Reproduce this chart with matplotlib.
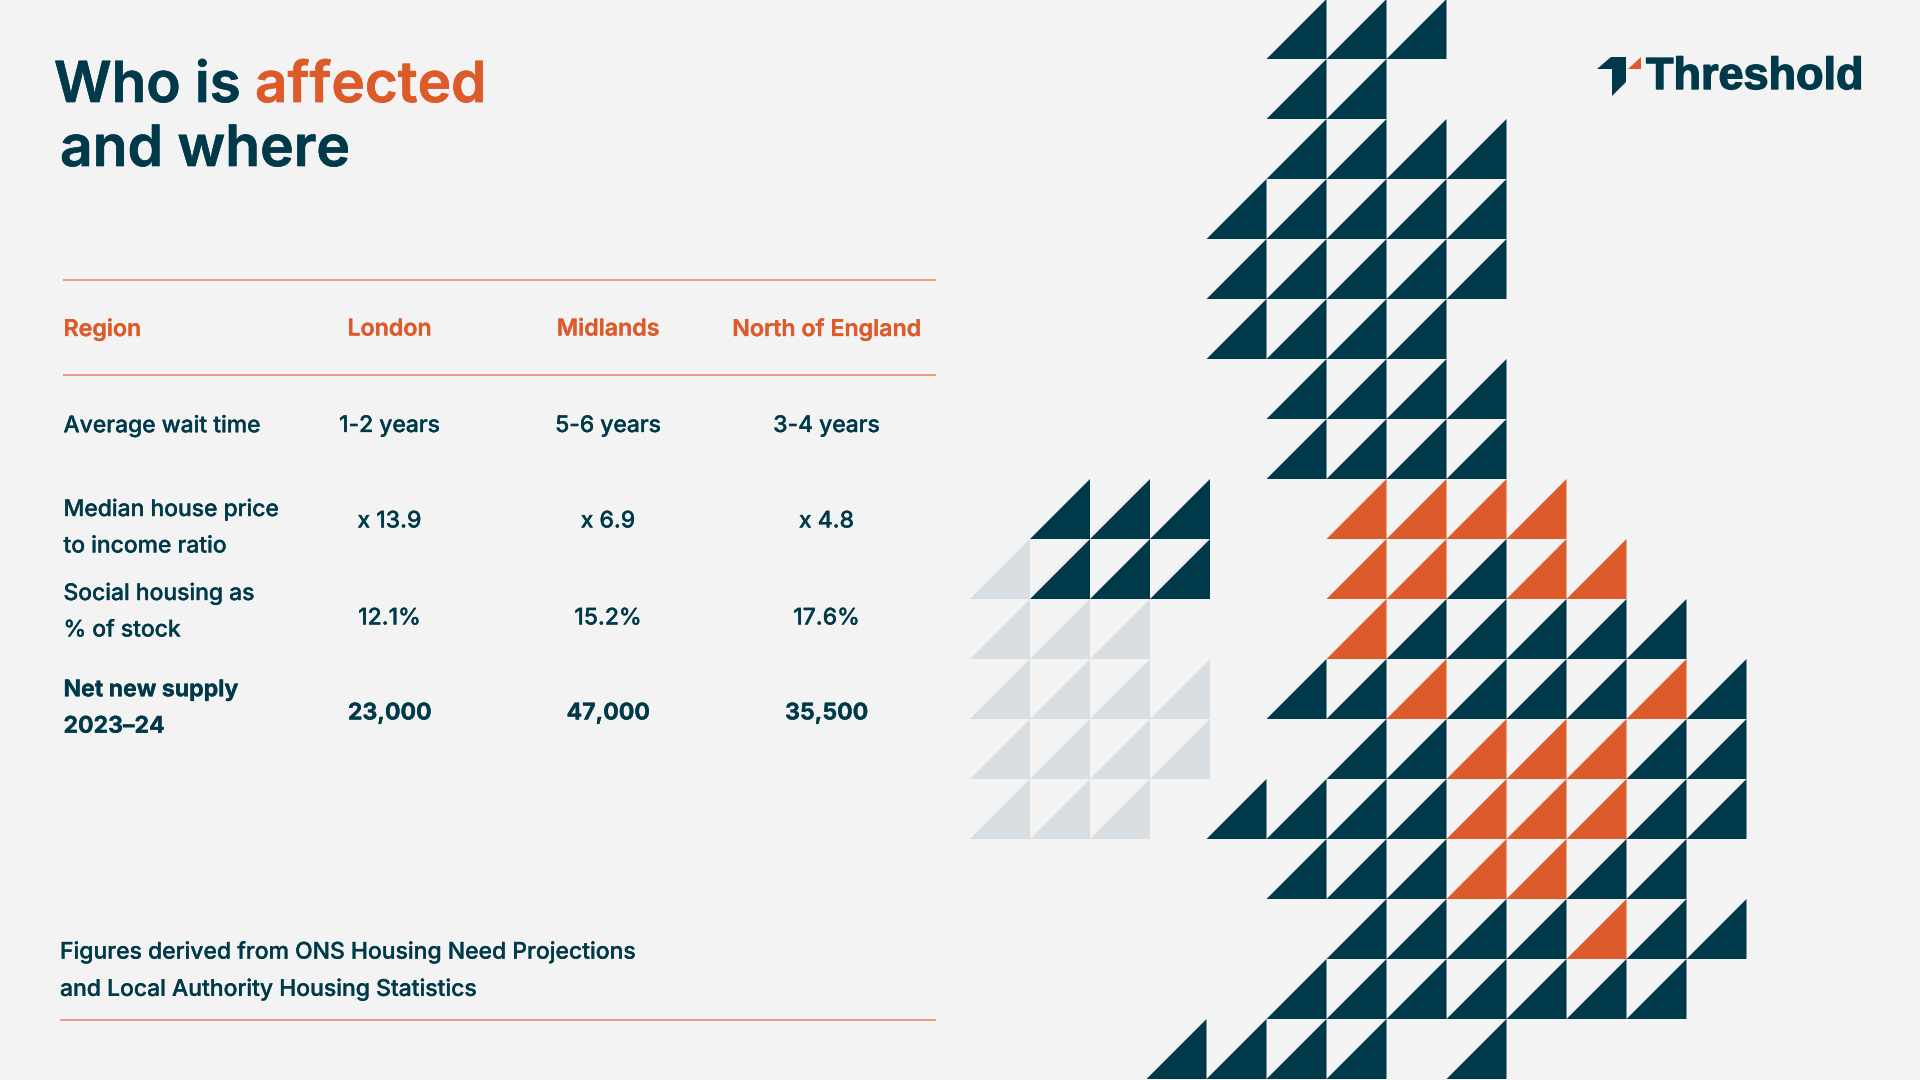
import matplotlib
matplotlib.use("Agg")
import matplotlib.pyplot as plt
import matplotlib.patheffects as pe
from matplotlib.patches import Polygon

NAVY = "#003A4A"
ORANGE = "#DD5A2B"
GREY = "#D8DEE1"
BG = "#F3F3F3"
FONT = "Inter"

# N = navy, O = orange, G = grey, . = empty cell
britain_rows = [
    "..NNN.....",  # 0
    "..NN......",  # 1
    "..NNNN....",  # 2
    ".NNNNN....",  # 3
    ".NNNNN....",  # 4
    ".NNNN.....",  # 5
    "..NNNN....",  # 6
    "..NNNN....",  # 7
    "...OOOO...",  # 8
    "...OONOO..",  # 9
    "...ONNNNN.",  # 10
    "..NNONNNON",  # 11
    "...NNOOONN",  # 12
    ".NNNNOOONN",  # 13
    "..NNNOONN.",  # 14
    "...NNNNONN",  # 15
    "..NNNNNNN.",  # 16
    "NNNN.N....",  # 17
]
ireland_rows = {
    8: ".NNN",
    9: "GNNN",
    10: "GGG.",
    11: "GGGG",
    12: "GGGG",
    13: "GGG.",
}

title_start = "Who is "
title_accent = "affected"
title_line2 = "and where"

table_header = ["Region", "London", "Midlands", "North of England"]
row_labels = [
    "Average wait time",
    "Median house price\nto income ratio",
    "Social housing as\n% of stock",
    "Net new supply\n2023–24",
]
london_values = ["1-2 years", "x 13.9", "12.1%", "23,000"]
midlands_values = ["5-6 years", "x 6.9", "15.2%", "47,000"]
north_values = ["3-4 years", "x 4.8", "17.6%", "35,500"]
footnote = "Figures derived from ONS Housing Need Projections\nand Local Authority Housing Statistics"
logo_name = "Threshold"

fig = plt.figure(figsize=(19.2, 10.8), dpi=100, facecolor=BG)
ax = fig.add_axes([0, 0, 1, 1])
ax.set_xlim(0, 1920)
ax.set_ylim(1080, 0)
ax.axis("off")

COLOURS = {"N": NAVY, "O": ORANGE, "G": GREY}
CELL = 60


def draw_cell(col_left, row, code):
    top = -1 + row * CELL
    pts = [(col_left, top + CELL), (col_left + CELL, top), (col_left + CELL, top + CELL)]
    ax.add_patch(Polygon(pts, closed=True, facecolor=COLOURS[code], edgecolor="none"))


for r, row in enumerate(britain_rows):
    for c, code in enumerate(row):
        if code != ".":
            draw_cell(1146.5 + c * CELL, r, code)
for r, row in ireland_rows.items():
    for c, code in enumerate(row):
        if code != ".":
            draw_cell(970 + c * CELL, r, code)


def heavier(colour, width=0.2):
    return [pe.withStroke(linewidth=width, foreground=colour)]


# title
TITLE = 40.7
t1 = ax.text(54, 102, title_start, fontsize=TITLE, family=FONT, weight=600, color=NAVY, va="baseline",
             path_effects=heavier(NAVY, 0.5))
ax.annotate(title_accent, xy=(1, 0), xycoords=t1, fontsize=TITLE, family=FONT, weight=600,
            color=ORANGE, va="bottom", ha="left", annotation_clip=False,
            path_effects=heavier(ORANGE, 0.5))
ax.text(60, 166, title_line2, fontsize=41, family=FONT, weight=600, color=NAVY, va="baseline",
        path_effects=heavier(NAVY, 0.5))

# rules
for x0, x1, y in [(62.5, 936, 279.5), (62.5, 936, 374.5), (60, 936, 1020)]:
    ax.plot([x0, x1], [y, y], color="#E8835C", lw=1.1, solid_capstyle="butt")

# table
col_x = [63.5, 389.5, 608, 826.5]
TS = 16.45
header_y = 329.5
row_y = [426, 521.5, 618.5, 713.5]
label_y = [426, 528, 612, 708.5]
for x, label, ha in zip(col_x, table_header, ["left", "center", "center", "center"]):
    ax.text(x, header_y, label, fontsize=16.7, family=FONT, weight=600, color=ORANGE, ha=ha, va="center",
            path_effects=heavier(ORANGE))
for i, y in enumerate(row_y):
    bold = i == len(row_y) - 1
    weight = 700 if bold else 500
    size = 16.6 if bold else TS
    ax.text(col_x[0], label_y[i], row_labels[i], fontsize=size, family=FONT, weight=weight, color=NAVY,
            ha="left", va="center", linespacing=1.85, path_effects=heavier(NAVY))
    for x, vals in zip(col_x[1:], [london_values, midlands_values, north_values]):
        ax.text(x, y, vals[i], fontsize=size, family=FONT, weight=weight, color=NAVY, ha="center", va="center",
                path_effects=heavier(NAVY))

ax.text(60, 971, footnote, fontsize=16.5, family=FONT, weight=500, color=NAVY, ha="left", va="center",
        linespacing=1.84, path_effects=heavier(NAVY))

# logo
ax.add_patch(Polygon([(1597, 69), (1611, 57), (1626, 57), (1626, 82), (1612, 96), (1612, 69)],
                     closed=True, facecolor=NAVY, edgecolor="none"))
ax.add_patch(Polygon([(1628, 69), (1641, 57), (1641, 69)], closed=True, facecolor=ORANGE, edgecolor="none"))
ax.text(1646, 89, logo_name, fontsize=32.4, family="Liberation Sans", weight="bold", color=NAVY,
        ha="left", va="baseline", path_effects=heavier(NAVY, 1.0))

fig.savefig("out.png", dpi=100, facecolor=BG)
